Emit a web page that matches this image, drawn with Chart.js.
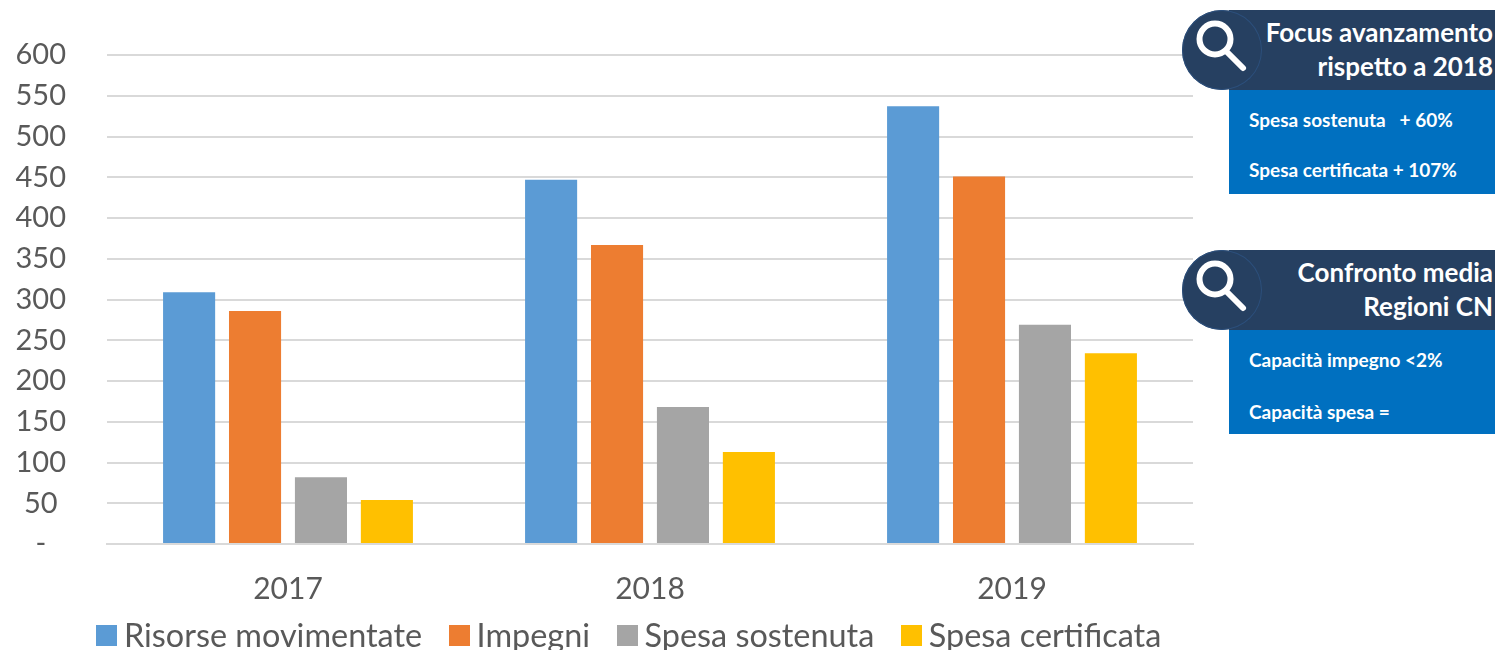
<!DOCTYPE html>
<html>
<head>
<meta charset="utf-8">
<style>
  html, body { margin: 0; padding: 0; background: #fff; overflow: hidden; }
  #wrap { position: relative; width: 1495px; height: 650px; font-family: Lato, sans-serif; }
  #grafico { position: absolute; left: 0; top: 0; }
  #legenda { position: absolute; left: 96px; top: 615px; height: 40px; display: flex; gap: 26.5px; color: #595959; font-size: 32.4px; line-height: 40px; white-space: nowrap; }
  #legenda div { display: flex; align-items: center; }
  #legenda i { display: block; width: 21px; height: 21px; margin-right: 7px; }
  .circle { position: absolute; left: 1182px; width: 80px; height: 80px; border-radius: 50%; background: #264061; box-shadow: inset 0 0 0 1px #2c4f7c; }
  .circle svg { position: absolute; left: 0; top: 0; }
  .head { position: absolute; left: 1229px; width: 264px; padding-right: 2px; height: 80px; background: #264061; color: #fff;
    font-weight: 700; font-size: 26px; line-height: 34px; text-align: right; }
  .body { position: absolute; left: 1229px; width: 266px; height: 104px; background: #0070c0; color: #fff;
    font-weight: 700; font-size: 19px; }
  .body span { position: absolute; left: 20px; white-space: pre; line-height: 20px; }
</style>
</head>
<body>
<div id="wrap">
  <canvas id="grafico" width="1252" height="650" style="width:1252px;height:650px"></canvas>
  <div id="legenda"></div>

  <div class="head" style="top:10px"><div style="padding-top:5px">Focus avanzamento<br>rispetto a 2018</div></div>
  <div class="circle" style="top:10px">
    <svg width="80" height="80"><circle cx="33" cy="29" r="15.5" fill="none" stroke="#fff" stroke-width="6"/><line x1="46" y1="43" x2="61" y2="58" stroke="#fff" stroke-width="6" stroke-linecap="round"/></svg>
  </div>
  <div class="body" style="top:90px">
    <span style="top:20px">Spesa sostenuta   + 60%</span>
    <span style="top:70px">Spesa certificata + 107%</span>
  </div>

  <div class="head" style="top:250px"><div style="padding-top:5px">Confronto media<br>Regioni CN</div></div>
  <div class="circle" style="top:250px">
    <svg width="80" height="80"><circle cx="33" cy="29" r="15.5" fill="none" stroke="#fff" stroke-width="6"/><line x1="46" y1="43" x2="61" y2="58" stroke="#fff" stroke-width="6" stroke-linecap="round"/></svg>
  </div>
  <div class="body" style="top:330px">
    <span style="top:20px">Capacità impegno &lt;2%</span>
    <span style="top:72px">Capacità spesa =</span>
  </div>
</div>

<script src="https://cdn.jsdelivr.net/npm/chart.js@4"></script>
<script>
const anni = ["2017", "2018", "2019"]
const risorse = [309, 447, 537]
const impegni = [286, 367, 451]
const spesaSostenuta = [82, 168, 269]
const spesaCertificata = [54, 113, 234]

const grigioTesto = "#595959"

const grafico = new Chart(document.getElementById("grafico"), {
  type: "bar",
  data: {
    labels: anni,
    datasets: [
      { label: "Risorse movimentate", data: risorse, backgroundColor: "#5b9bd5" },
      { label: "Impegni", data: impegni, backgroundColor: "#ed7d31" },
      { label: "Spesa sostenuta", data: spesaSostenuta, backgroundColor: "#a5a5a5" },
      { label: "Spesa certificata", data: spesaCertificata, backgroundColor: "#ffc000" }
    ]
  },
  options: {
    responsive: false,
    animation: false,
    layout: { padding: { top: 55, right: 59, bottom: 0, left: 1 } },
    datasets: { bar: { categoryPercentage: 0.7285, barPercentage: 0.79 } },
    plugins: {
      tooltip: { enabled: false },
      legend: { display: false }
    },
    scales: {
      x: {
        grid: { display: false },
        border: { color: "#d9d9d9", width: 2 },
        ticks: { color: grigioTesto, font: { family: "Lato", size: 30 }, padding: 19, maxRotation: 0 },
        afterFit: (scale) => { scale.height = 106 }
      },
      y: {
        min: 0, max: 600,
        // tickLength trasparente: ticks.padding grande sposterebbe anche il top della scala
        grid: { color: "#d9d9d9", lineWidth: 2, tickLength: 38, tickColor: "transparent" },
        border: { display: false },
        afterFit: (scale) => { scale.width = 106 },
        ticks: {
          stepSize: 50,
          crossAlign: "center",
          padding: 3,
          color: grigioTesto,
          font: { family: "Lato", size: 29 },
          callback: (v) => v === 0 ? "-" : v
        }
      }
    }
  }
})

// legenda fuori dal canvas, il gap box/testo di Chart.js e troppo largo
const legenda = document.getElementById("legenda")
grafico.data.datasets.forEach(ds => {
  legenda.innerHTML += `<div><i style="background:${ds.backgroundColor}"></i>${ds.label}</div>`
})
</script>
</body>
</html>
